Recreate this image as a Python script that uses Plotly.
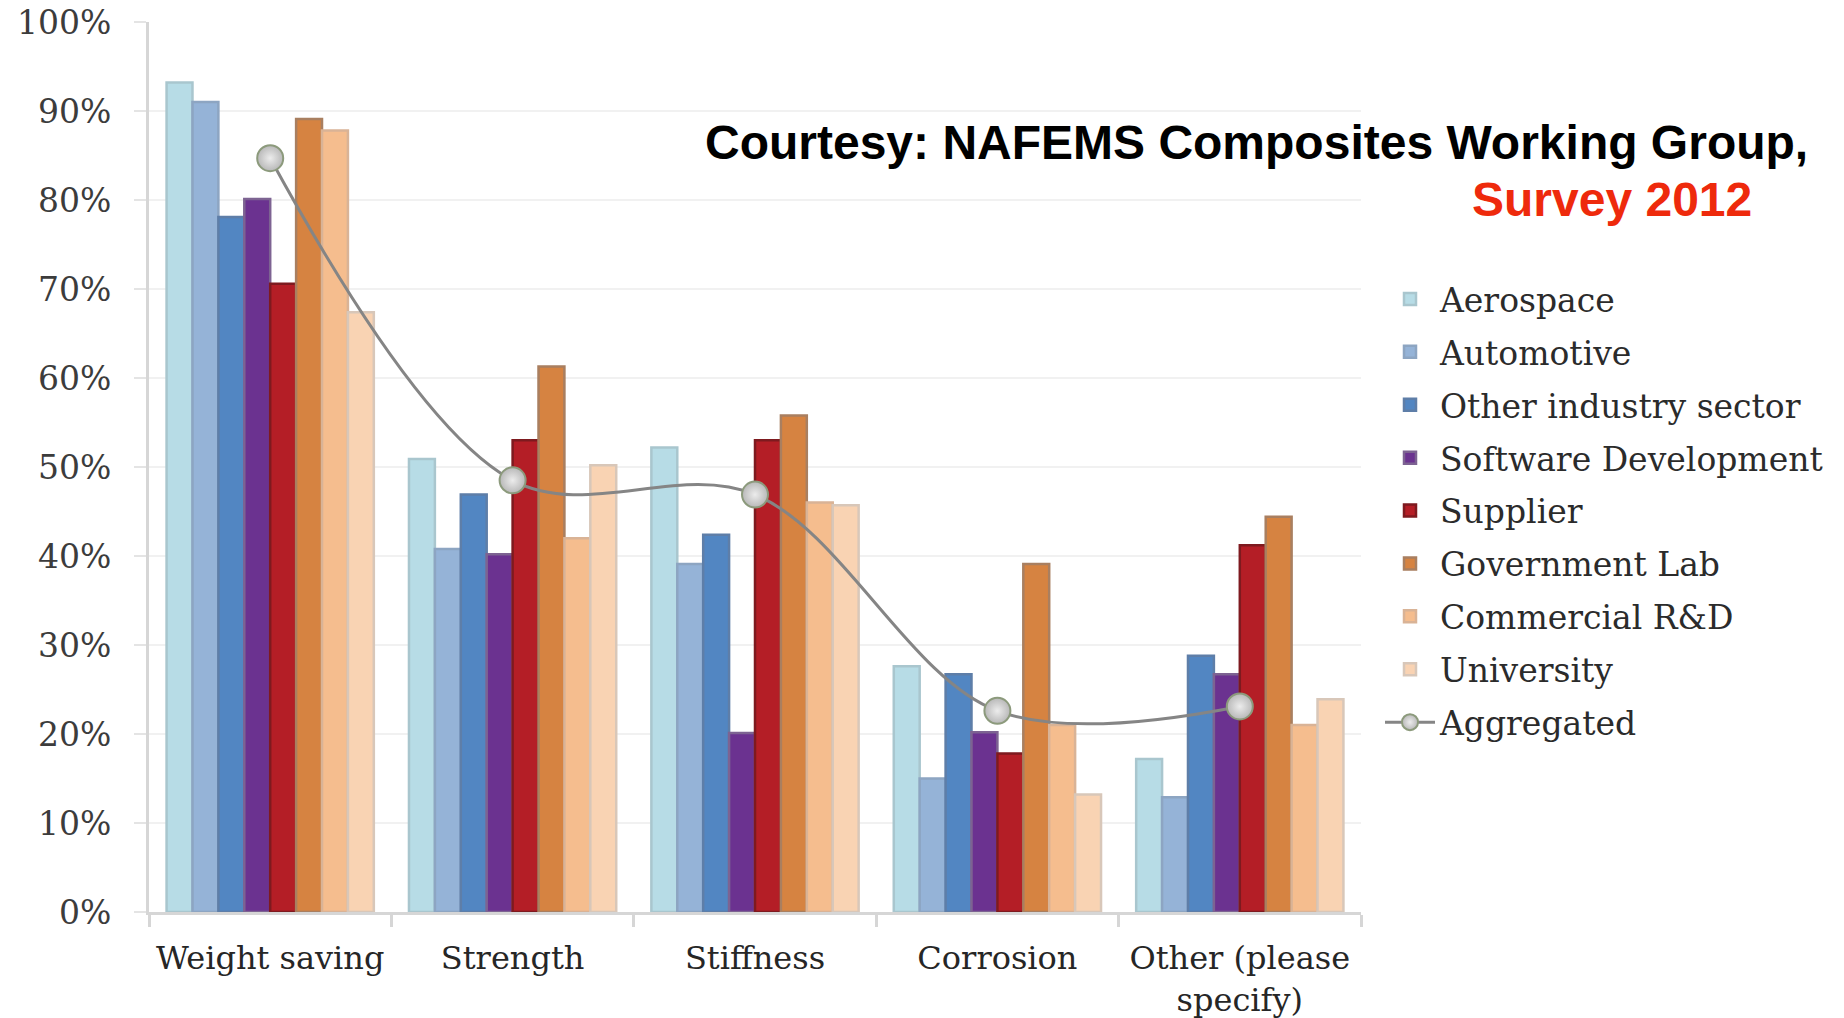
import plotly.graph_objects as go

# Survey: main reasons for using composites, by respondent sector (share of respondents, %)
categories = ["Weight saving", "Strength", "Stiffness", "Corrosion", "Other (please<br>specify)"]

sectors = [
    "Aerospace",
    "Automotive",
    "Other industry sector",
    "Software Development",
    "Supplier",
    "Government Lab",
    "Commercial R&D",
    "University",
]

aerospace = [93.2, 50.9, 52.2, 27.6, 17.2]
automotive = [91.0, 40.8, 39.1, 15.0, 12.9]
other_industry = [78.1, 46.9, 42.4, 26.7, 28.8]
software_dev = [80.1, 40.2, 20.1, 20.2, 26.7]
supplier = [70.6, 53.0, 53.0, 17.8, 41.2]
government_lab = [89.1, 61.3, 55.8, 39.1, 44.4]
commercial_rd = [87.8, 42.0, 46.0, 21.0, 21.0]
university = [67.4, 50.2, 45.7, 13.2, 23.9]

aggregated = [84.7, 48.5, 46.9, 22.6, 23.1]

y_ticks = list(range(0, 101, 10))
y_tick_labels = [f"{v}%" for v in y_ticks]

series = [aerospace, automotive, other_industry, software_dev,
          supplier, government_lab, commercial_rd, university]

fills = ["#b7dce6", "#95b3d7", "#5286c2", "#6b3290",
         "#b41e26", "#d68341", "#f5bd8e", "#f9d3b3"]
edges = ["#a9c6ce", "#8da5c2", "#5e7ea8", "#7d6392",
         "#7e1a1f", "#a97f60", "#d9b396", "#d8c7b9"]

W, H = 1844, 1018
ML, MR, MT, MB = 149, 483, 22, 106
PW, PH = W - ML - MR, H - MT - MB

SERIF = "DejaVu Serif"

fig = go.Figure()

for i, (name, vals) in enumerate(zip(sectors, series)):
    fig.add_trace(go.Bar(
        name=name,
        x=categories,
        y=vals,
        legendgroup=name,
        marker=dict(color=fills[i], line=dict(color=edges[i], width=2.5)),
    ))

fig.add_trace(go.Scatter(
    name="Aggregated",
    x=categories,
    y=aggregated,
    legendgroup="Aggregated",
    mode="lines+markers",
    line=dict(color="#858585", width=3, shape="spline", smoothing=1),
    marker=dict(
        size=26,
        color="#b8b8b8",
        gradient=dict(type="radial", color="#ececec"),
        line=dict(color="#8c9a7c", width=2),
    ),
))


def px_x(x):
    return (x - ML) / PW


def px_y(y):
    return 1 - (y - MT) / PH


fig.add_annotation(
    x=px_x(703), y=px_y(142), xref="paper", yref="paper",
    xanchor="left", yanchor="middle", showarrow=False,
    text="<b>Courtesy: NAFEMS Composites Working Group,</b>",
    font=dict(family="Liberation Sans, Arial", size=48, color="#000000"),
)
fig.add_annotation(
    x=px_x(1470), y=px_y(200), xref="paper", yref="paper",
    xanchor="left", yanchor="middle", showarrow=False,
    text="<b>Survey 2012</b>",
    font=dict(family="Liberation Sans, Arial", size=48, color="#ee2a0c"),
)

fig.update_layout(
    width=W, height=H,
    margin=dict(l=ML, r=MR, t=MT, b=MB, autoexpand=False),
    paper_bgcolor="white",
    plot_bgcolor="white",
    barmode="group",
    bargap=0.145,
    bargroupgap=0,
    showlegend=True,
    legend=dict(
        x=px_x(1380), y=px_y(271), xanchor="left", yanchor="top",
        font=dict(family=SERIF, size=33, color="#2b2b2b"),
        tracegroupgap=7,
        itemwidth=50,
        bgcolor="rgba(0,0,0,0)",
    ),
    xaxis=dict(
        type="category",
        showgrid=False,
        showline=True, linecolor="#d6d6d6", linewidth=3,
        ticks="outside", tickson="boundaries", ticklen=12,
        tickcolor="#d6d6d6", tickwidth=3,
        tickangle=0,
        tickfont=dict(family=SERIF, size=32, color="#262626"),
        ticklabelstandoff=16,
    ),
    yaxis=dict(
        range=[0, 100],
        tickmode="array",
        tickvals=y_ticks,
        ticktext=y_tick_labels,
        showgrid=True, gridcolor="#f1f1f1", gridwidth=2,
        showline=True, linecolor="#d6d6d6", linewidth=3,
        ticks="outside", ticklen=12, tickcolor="#e4e4e4", tickwidth=2,
        tickfont=dict(family=SERIF, size=33, color="#3c3c3c"),
        ticklabelstandoff=16,
        zeroline=False,
    ),
)

fig.write_html("out.html")
